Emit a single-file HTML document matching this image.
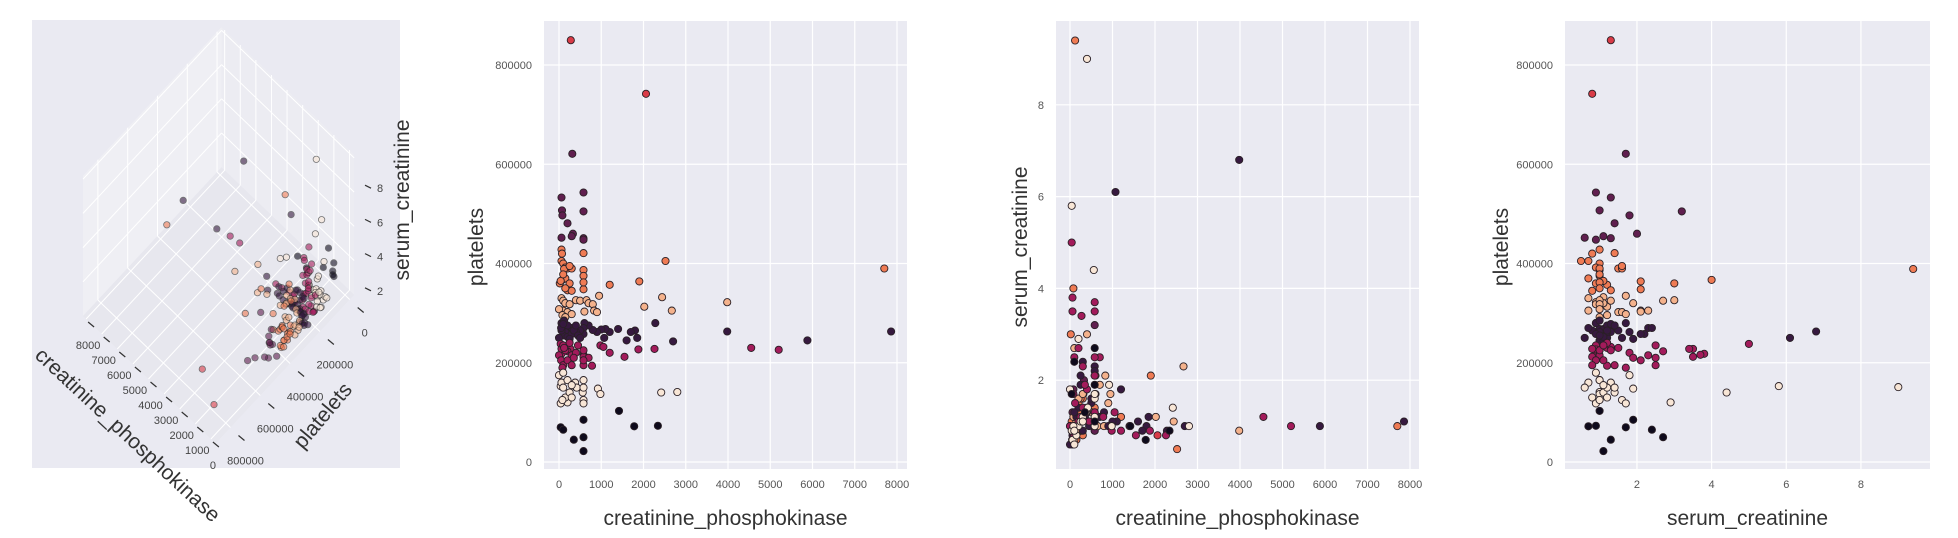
<!DOCTYPE html>
<html><head><meta charset="utf-8">
<style>
html,body{margin:0;padding:0;background:#fff;}
svg{display:block;font-family:"Liberation Sans",sans-serif;}
</style></head>
<body>
<svg id="fig" width="1958" height="538" viewBox="0 0 1958 538"></svg>
<script>
const cpk = [280,2060,315,
580,60,70,580,80,200,330,300,60,580,580,
60,70,580,2520,60,100,150,200,300,580,580,120,7700,1900,80,20,1200,580,200,300,150,250,40,100,580,150,250,
950,2440,3980,2020,2670,60,100,150,250,400,500,650,700,800,830,900,100,200,300,600,0,80,150,
3980,1070,7860,5880,2700,2280,1850,1800,1700,1600,1400,1200,1100,1000,900,800,700,600,580,580,500,400,300,250,200,150,100,60,60,0,50,120,200,300,350,450,100,500,400,250,
4550,5200,40,60,60,580,580,270,980,1050,1200,1550,1880,2260,700,780,580,580,580,100,200,300,0,50,100,150,200,250,300,400,350,80,120,450,
400,40,560,200,2420,2800,920,980,0,60,100,150,200,250,300,380,420,580,580,580,580,40,80,100,300,
1420,1780,2340,580,40,100,350,580,580];
const platelets = [850,742,621,
543,533,507,505,497,481,460,455,452,451,448,
428,420,421,405,405,400,392,390,390,387,375,389,390,364,367,360,357,348,346,345,370,360,365,378,362,350,395,
335,332,322,313,305,330,325,320,318,326,325,326,320,318,305,302,305,302,298,303,308,296,292,
263,250,263,245,243,280,250,265,262,245,268,262,268,267,262,266,275,280,270,258,265,262,270,258,275,262,255,280,265,250,270,285,252,258,265,255,278,250,275,248,
230,226,238,218,228,216,212,228,235,232,220,212,227,228,210,194,195,205,225,235,223,215,215,205,195,225,205,240,195,220,210,190,230,235,
151,153,140,120,140,141,148,137,175,160,150,130,165,140,130,160,150,165,150,125,118,118,125,180,155,
103,72,73,85,70,65,45,50,22];
const serum = [1.3,0.8,1.7,
0.9,1.3,1.0,3.2,1.8,1.4,2.0,1.1,0.6,1.3,0.9,
1.0,0.8,1.4,0.5,0.7,1.0,0.9,1.5,1.6,1.0,1.0,9.4,1.0,2.1,4.0,3.0,1.2,2.1,1.3,0.8,0.7,0.9,1.1,1.0,1.0,1.0,1.6,
1.7,1.1,0.9,1.2,2.3,0.7,2.7,1.1,0.9,3.0,1.3,1.0,1.9,1.0,2.1,1.5,0.7,1.6,1.7,2.1,1.0,1.2,1.0,
6.8,6.1,1.1,1.0,1.0,0.9,1.2,1.0,0.9,1.1,1.0,1.8,1.1,1.1,1.0,1.3,1.2,1.7,2.3,2.2,1.5,1.3,2.4,2.1,1.4,1.2,1.0,0.9,0.8,0.6,0.7,1.0,1.1,0.9,1.2,1.0,1.3,1.6,1.4,1.9,
1.2,1.0,5.0,3.8,3.5,3.7,3.5,3.4,0.9,1.3,0.9,0.8,0.9,0.8,2.5,1.2,2.5,2.1,1.3,2.5,2.7,2.3,1.0,0.9,0.8,1.0,1.1,1.2,1.4,1.8,1.9,1.7,1.5,1.1,
9.0,5.8,4.4,2.9,1.4,1.0,1.9,1.0,1.8,0.7,0.6,0.8,1.0,1.1,1.2,1.3,1.4,1.0,1.2,1.6,1.7,0.9,1.0,0.9,1.1,
1.0,0.7,0.9,1.9,1.7,2.4,1.3,2.7,1.1];
const cluster = [7,7,6,
6,6,6,6,6,6,6,6,6,6,6,
5,5,5,5,5,5,5,5,5,5,5,5,5,5,5,5,5,5,5,5,5,5,5,5,5,5,5,
4,4,4,4,4,4,4,4,4,4,4,4,4,4,4,4,4,4,4,4,4,4,4,
3,3,3,3,3,3,3,3,3,3,3,3,3,3,3,3,3,3,3,3,3,3,3,3,3,3,3,3,3,3,3,3,3,3,3,3,3,3,3,3,
2,2,2,2,2,2,2,2,2,2,2,2,2,2,2,2,2,2,2,2,2,2,2,2,2,2,2,2,2,2,2,2,2,2,
1,1,1,1,1,1,1,1,1,1,1,1,1,1,1,1,1,1,1,1,1,1,1,1,1,
0,0,0,0,0,0,0,0,0];
const palette = ["#0e0a1c","#f8e6d6","#a31b5b","#36193f","#f4b28c","#ef7b54","#601f4f","#d93b47"];
const cpkTicks = [0,1000,2000,3000,4000,5000,6000,7000,8000];
const platTicks = [0,200000,400000,600000,800000];
const serumTicksP3 = [2,4,6,8];
const serumTicksP4 = [2,4,6,8];
const platTicks3d = [0,200000,400000,600000,800000];
const cpkTicks3d = [0,1000,2000,3000,4000,5000,6000,7000,8000];
const serumTicks3d = [2,4,6,8];

const NS="http://www.w3.org/2000/svg";
const svg=document.getElementById('fig');
function mk(tag,attrs,parent){const e=document.createElementNS(NS,tag);for(const k in attrs)e.setAttribute(k,attrs[k]);(parent||svg).appendChild(e);return e;}
function txt(s,attrs,parent){const e=mk('text',attrs,parent);e.textContent=s;return e;}

/* ---------- 3D panel ---------- */
const g3=mk('g',{});


mk('rect',{x:32,y:20,width:368,height:448,fill:'#eaeaf2'},g3);
function P(c,p,s){
  return [345 - 15.6*c/1000 - 14.9*p/100000, 295 - 15.0*c/1000 + 16.0*p/100000 - 17.1*s];
}
const C0=-300,C1=8200,Q0=-30000,Q1=900000,S0=0,S1=8.2;
function poly(pts,fill,parent){mk('polygon',{points:pts.map(q=>q.join(',')).join(' '),fill:fill},parent);}
poly([P(C0,Q0,S0),P(C1,Q0,S0),P(C1,Q0,S1),P(C0,Q0,S1)],'#ececf2',g3);
poly([P(C1,Q0,S0),P(C1,Q1,S0),P(C1,Q1,S1),P(C1,Q0,S1)],'#efeff4',g3);
poly([P(C0,Q0,S0),P(C1,Q0,S0),P(C1,Q1,S0),P(C0,Q1,S0)],'#e7e7ee',g3);
function ln(a,b,parent,stroke,w){mk('line',{x1:a[0],y1:a[1],x2:b[0],y2:b[1],stroke:stroke||'#fff','stroke-width':w||1},parent);}
cpkTicks3d.forEach(c=>{ln(P(c,Q0,S0),P(c,Q1,S0),g3);ln(P(c,Q0,S0),P(c,Q0,S1),g3);});
platTicks3d.forEach(p=>{ln(P(C0,p,S0),P(C1,p,S0),g3);ln(P(C1,p,S0),P(C1,p,S1),g3);});
serumTicks3d.forEach(s=>{ln(P(C0,Q0,s),P(C1,Q0,s),g3);ln(P(C1,Q0,s),P(C1,Q1,s),g3);});
cpkTicks3d.forEach(c=>{const q=P(c,Q1,S0);ln([q[0]+2,q[1]+3],[q[0]+8,q[1]+8],g3,'#333',1.2);
  const t=txt(String(c),{x:q[0]+2,y:q[1]+30,'font-size':11,fill:'#444','text-anchor':'middle'},g3);
  });
platTicks3d.forEach(p=>{const q=P(C0,p,S0);ln([q[0]+8,q[1]+8],[q[0]+14,q[1]+13],g3,'#333',1.2);
  const t=txt(String(p),{x:q[0]+15,y:q[1]+37,'font-size':11,fill:'#444','text-anchor':'middle'},g3);
  });
serumTicks3d.forEach(s=>{const y=325-17.1*s;ln([365,y-3],[371,y],g3,'#333',1.2);
  const t=txt(String(s),{x:380,y:y+4,'font-size':11,fill:'#444','text-anchor':'middle'},g3);
  });
const order=cpk.map((_,i)=>i).sort((a,b)=>cpk[b]-cpk[a]);
order.forEach(i=>{const q=P(cpk[i],platelets[i]*1000,serum[i]);
  const d=mk('circle',{cx:q[0].toFixed(1),cy:q[1].toFixed(1),r:3.2,fill:palette[cluster[i]],stroke:'#222','stroke-width':0.8,opacity:0.6},g3);
  
  
});
let t3;
t3=txt('creatinine_phosphokinase',{x:0,y:0,'font-size':21,fill:'#333','text-anchor':'middle',transform:'translate(123,440) rotate(43)'},g3);

t3=txt('platelets',{x:0,y:0,'font-size':21,fill:'#333','text-anchor':'middle',transform:'translate(328,420) rotate(-50)'},g3);

t3=txt('serum_creatinine',{x:0,y:0,'font-size':21,fill:'#333','text-anchor':'middle',transform:'translate(409,200) rotate(-90)'},g3);


/* ---------- 2D panels ---------- */
function panel(cfg){
  const g=mk('g',{});
  
  
  mk('rect',{x:cfg.bx0,y:21,width:cfg.bx1-cfg.bx0,height:448,fill:'#eaeaf2'},g);
  cfg.xt.forEach(v=>{const x=cfg.sx(v);
    mk('line',{x1:x,y1:21,x2:x,y2:469,stroke:'#fff','stroke-width':1.2},g);
    const t=txt(cfg.xf(v),{x:x,y:488,'font-size':11,fill:'#555','text-anchor':'middle'},g);
    });
  cfg.yt.forEach(v=>{const y=cfg.sy(v);
    mk('line',{x1:cfg.bx0,y1:y,x2:cfg.bx1,y2:y,stroke:'#fff','stroke-width':1.2},g);
    const t=txt(String(v),{x:cfg.bx0-12,y:y+4,'font-size':11,fill:'#555','text-anchor':'end'},g);
    });
  cfg.xs.forEach((xv,i)=>{
    const d=mk('circle',{cx:cfg.sx(xv).toFixed(1),cy:cfg.sy(cfg.ys[i]).toFixed(1),r:3.6,fill:palette[cluster[i]],stroke:'#2a2026','stroke-width':0.9},g);
    
    
  });
  let t=txt(cfg.xl,{x:(cfg.bx0+cfg.bx1)/2,y:525,'font-size':21,fill:'#333','text-anchor':'middle'},g);
  
  t=txt(cfg.yl,{x:0,y:0,'font-size':21,fill:'#333','text-anchor':'middle',transform:`translate(${cfg.ylx},247) rotate(-90)`},g);
  
}
const platY=v=>462-v*(397/800000);
panel({name:'cpk-vs-platelets-panel',bx0:544,bx1:907,sx:v=>559+v*42.25/1000,sy:platY,
  xt:cpkTicks,yt:platTicks,xf:String,xs:cpk,ys:platelets.map(p=>p*1000),xl:'creatinine_phosphokinase',yl:'platelets',ylx:483});
panel({name:'cpk-vs-serum-panel',bx0:1056,bx1:1419,sx:v=>1070+v*42.5/1000,sy:v=>472-v*45.9,
  xt:cpkTicks,yt:serumTicksP3,xf:String,xs:cpk,ys:serum,xl:'creatinine_phosphokinase',yl:'serum_creatinine',ylx:1027});
panel({name:'serum-vs-platelets-panel',bx0:1565,bx1:1930,sx:v=>1562.3+v*37.33,sy:platY,
  xt:serumTicksP4,yt:platTicks,xf:String,xs:serum,ys:platelets.map(p=>p*1000),xl:'serum_creatinine',yl:'platelets',ylx:1508});
</script>
</body></html>
